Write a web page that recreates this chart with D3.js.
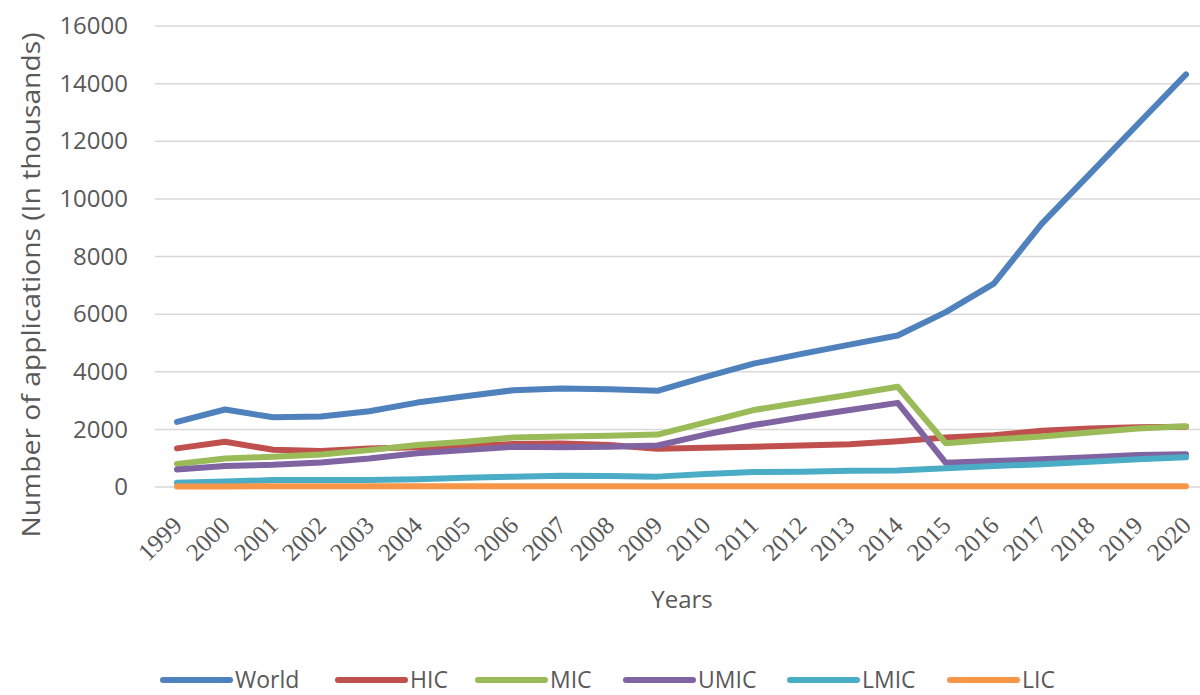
<!DOCTYPE html>
<html lang="en">
  <head>
    <meta charset="utf-8">
    <title>Applications by income group</title>
    <style>
      body { margin: 0; background: #fff; }
      text { font-family: "Open Sans", "Noto Sans", sans-serif; fill: #595959; }
    </style>
  </head>
  <body>
    <svg></svg>
    <script src="https://d3js.org/d3.v7.min.js"></script>
    <script>
      // values (thousands of applications)
      var years = ["1999","2000","2001","2002","2003","2004","2005","2006","2007","2008","2009",
                   "2010","2011","2012","2013","2014","2015","2016","2017","2018","2019","2020"];
      var world = [2260,2690,2420,2450,2630,2930,3150,3360,3420,3390,3340,
                   3820,4280,4620,4940,5260,6070,7060,9140,10870,12600,14320];
      var hic   = [1340,1570,1290,1250,1340,1380,1420,1490,1510,1460,1330,
                   1360,1400,1440,1480,1590,1720,1800,1950,2030,2070,2090];
      var mic   = [800,990,1050,1130,1280,1460,1570,1720,1750,1780,1820,
                   2240,2670,2940,3200,3480,1520,1650,1750,1890,2030,2110];
      var umic  = [610,730,770,850,990,1170,1280,1400,1380,1400,1440,
                   1820,2150,2420,2670,2920,840,900,960,1030,1110,1140];
      var lmic  = [150,190,240,240,240,270,320,360,390,380,360,
                   450,520,530,560,570,650,730,790,880,960,1030];
      var lic   = [20,20,25,25,25,25,25,30,30,30,30,
                   30,30,30,30,30,30,30,30,30,30,30];
      var seriesNames = ["World","HIC","MIC","UMIC","LMIC","LIC"];
      var seriesColors = ["#4f81bd","#c0504d","#9bbb59","#8064a2","#4bacc6","#f79646"];
      var yTicks = [0,2000,4000,6000,8000,10000,12000,14000,16000];

      var width = 1200, height = 695;
      var svg = d3.select("svg").attr("width", width).attr("height", height);

      var x = d3.scalePoint().domain(years).range([177, 1186]);
      var y = d3.scaleLinear().domain([0, 16000]).range([487, 26]);

      // gridlines
      svg.append("g")
        .selectAll("line")
        .data(yTicks)
        .enter().append("line")
        .attr("x1", 155).attr("x2", 1200)
        .attr("y1", function(d){ return y(d); })
        .attr("y2", function(d){ return y(d); })
        .style("stroke", "#d9d9d9").style("stroke-width", 1.5);

      // y axis labels
      var yAxis = d3.axisLeft(y).tickValues(yTicks).tickFormat(d3.format("d"))
        .tickSize(0).tickPadding(0);
      var gy = svg.append("g").attr("transform", "translate(128,0)").call(yAxis);
      gy.select(".domain").remove();
      gy.selectAll("text")
        .style("font-size", "24px").style("fill", "#595959")
        .style("font-family", "'Open Sans', sans-serif");

      // x axis labels (serif, turned 45 degrees)
      var xAxis = d3.axisBottom(x).tickSize(0).tickPadding(0);
      var gx = svg.append("g").attr("transform", "translate(0,500)").call(xAxis);
      gx.select(".domain").remove();
      gx.selectAll("text")
        .attr("y", 0)
        .attr("dy", 0)
        .attr("text-anchor", "end")
        .attr("transform", "translate(6,27) rotate(-45)")
        .style("font-size", "25px").style("fill", "#595959")
        .style("font-family", "'Liberation Serif', 'DejaVu Serif', serif");

      // axis titles
      svg.append("text")
        .attr("transform", "translate(40,285) rotate(-90)")
        .attr("text-anchor", "middle")
        .attr("textLength", 505).attr("lengthAdjust", "spacingAndGlyphs")
        .style("font-size", "25px")
        .text("Number of applications (In thousands)");

      svg.append("text")
        .attr("x", 682).attr("y", 608)
        .attr("text-anchor", "middle")
        .style("font-size", "24px")
        .text("Years");

      // lines
      var allSeries = [world, hic, mic, umic, lmic, lic];
      var line = d3.line()
        .x(function(d, i){ return x(years[i]); })
        .y(function(d){ return y(d); });

      svg.append("g")
        .selectAll("path")
        .data(allSeries)
        .enter().append("path")
        .attr("d", line)
        .style("fill", "none")
        .style("stroke", function(d, i){ return seriesColors[i]; })
        .style("stroke-width", 6)
        .style("stroke-linejoin", "round")
        .style("stroke-linecap", "round");

      // legend
      var legendX = [163, 338, 478, 626, 790, 950];
      var legend = svg.append("g")
        .selectAll("g")
        .data(seriesNames)
        .enter().append("g")
        .attr("transform", function(d, i){ return "translate(" + legendX[i] + ",680)"; });
      legend.append("line")
        .attr("x1", 0).attr("x2", 67).attr("y1", 0).attr("y2", 0)
        .style("stroke", function(d, i){ return seriesColors[i]; })
        .style("stroke-width", 6)
        .style("stroke-linecap", "round");
      legend.append("text")
        .attr("x", 72).attr("y", 0).attr("dy", "0.35em")
        .style("font-size", "23px")
        .text(function(d){ return d; });
    </script>
  </body>
</html>
